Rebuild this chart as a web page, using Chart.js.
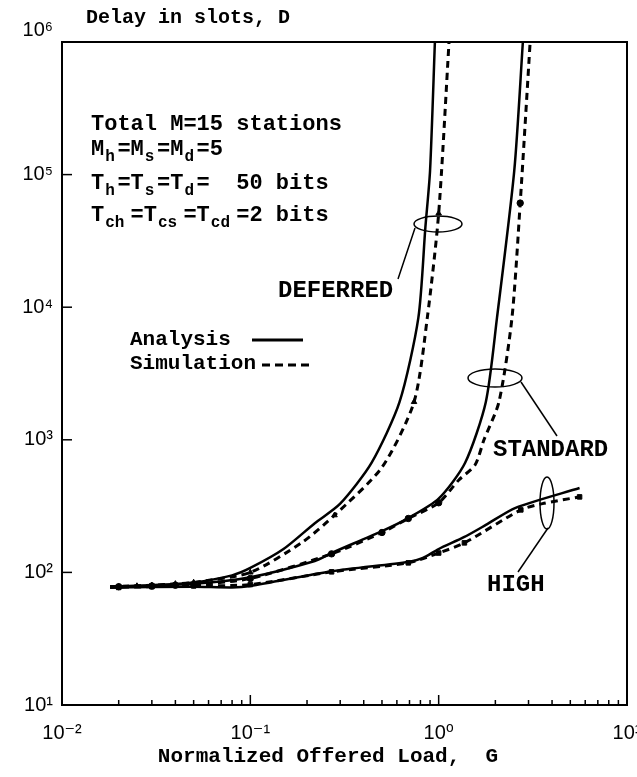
<!DOCTYPE html>
<html>
<head>
<meta charset="utf-8">
<script src="https://cdn.jsdelivr.net/npm/chart.js@4/dist/chart.umd.min.js"></script>
<style>
  html, body { margin: 0; padding: 0; background: #fff; }
  #wrap { width: 637px; height: 777px; }
</style>
</head>
<body>
<div id="wrap"><canvas id="delayChart"></canvas></div>
<script>
// values: load G vs delay D (slots)
const deferredLoadA = [0.018, 0.03, 0.05, 0.08, 0.1, 0.15, 0.22, 0.3, 0.44, 0.62, 0.78, 0.85, 0.9, 0.955];
const deferredDelayA = [78, 80, 84, 95, 108, 150, 235, 330, 670, 1930, 8300, 40000, 107000, 1000000];
const deferredLoadS = [0.018, 0.025, 0.03, 0.04, 0.05, 0.1, 0.19, 0.28, 0.5, 0.74, 0.87, 1.0, 1.135];
const deferredDelayS = [78, 79, 80, 82, 84, 100, 170, 270, 620, 1930, 8300, 51000, 1000000];

const standardLoadA = [0.018, 0.05, 0.1, 0.22, 0.27, 0.5, 0.69, 1.0, 1.38, 1.78, 2.04, 2.52, 2.8];
const standardDelayA = [78, 82, 92, 122, 140, 205, 257, 360, 668, 1930, 8300, 107000, 1000000];
const standardLoadS = [0.018, 0.05, 0.1, 0.27, 0.5, 0.69, 1.0, 1.28, 1.56, 1.74, 2.09, 2.45, 2.71, 3.06];
const standardDelayS = [78, 81, 90, 138, 200, 255, 335, 498, 645, 1000, 1930, 8300, 61000, 1000000];

const highLoadA = [0.018, 0.05, 0.08, 0.1, 0.27, 0.69, 0.82, 1.0, 1.37, 1.78, 2.56, 5.6];
const highDelayA = [77, 78, 77, 79, 102, 120, 128, 150, 185, 228, 307, 433];
const highLoadS = [0.018, 0.03, 0.05, 0.1, 0.27, 0.69, 1.0, 1.37, 2.73, 3.56, 5.6];
const highDelayS = [77, 78, 79, 81, 101, 118, 140, 167, 296, 330, 371];

// simulation markers
const deferredMarkG = [0.02, 0.025, 0.03, 0.04, 0.05, 0.1, 0.28, 0.74, 1.0];
const deferredMarkD = [78, 79, 80, 82, 84, 100, 270, 1930, 51000];
const standardMarkG = [0.02, 0.03, 0.04, 0.05, 0.1, 0.27, 0.5, 0.69, 1.0, 2.71];
const standardMarkD = [78, 79, 80, 81, 90, 138, 200, 255, 335, 61000];
const highMarkG = [0.02, 0.03, 0.05, 0.1, 0.27, 0.69, 1.0, 1.37, 2.73, 5.6];
const highMarkD = [77, 78, 79, 81, 101, 118, 140, 167, 296, 371];

const xMin = 0.01, xMax = 10;
const yMin = 10, yMax = 1e6;

function pts(xs, ys) {
  return xs.map((x, i) => ({ x: x, y: ys[i] }));
}

const supDigits = { '-': '\u207B', '0': '\u2070', '1': '\u00B9', '2': '\u00B2', '3': '\u00B3',
  '4': '\u2074', '5': '\u2075', '6': '\u2076', '7': '\u2077', '8': '\u2078', '9': '\u2079' };

function powLabel(v) {
  const e = Math.log10(v);
  if (Math.abs(e - Math.round(e)) > 1e-6) return null;
  return '10' + String(Math.round(e)).split('').map(c => supDigits[c]).join('');
}

function analysisLine(xs, ys) {
  return { data: pts(xs, ys), showLine: true, borderColor: '#000', borderWidth: 2.5,
    pointRadius: 0, tension: 0.25 };
}
function simLine(xs, ys) {
  return { data: pts(xs, ys), showLine: true, borderColor: '#000', borderWidth: 3,
    borderDash: [7, 5], pointRadius: 0, tension: 0.25 };
}
function marks(xs, ys, style) {
  return { data: pts(xs, ys), showLine: false, pointStyle: style, pointRadius: 3.2,
    backgroundColor: '#000', borderColor: '#000', borderWidth: 1 };
}

const mono = '"Liberation Mono", "DejaVu Sans Mono", monospace';

// typewriter style: subscripts sit in full character cells
function drawRich(ctx, parts, x, y, size) {
  ctx.font = 'bold ' + size + 'px ' + mono;
  const cell = ctx.measureText('M').width;
  let cx = x;
  parts.forEach(p => {
    if (p[1]) {
      ctx.font = 'bold ' + Math.round(size * 0.72) + 'px ' + mono;
      ctx.fillText(p[0], cx + 1, y + size * 0.34);
    } else {
      ctx.font = 'bold ' + size + 'px ' + mono;
      ctx.fillText(p[0], cx, y);
    }
    cx += p[0].length * cell;
  });
}

function ellipse(ctx, cx, cy, rx, ry) {
  ctx.beginPath();
  ctx.ellipse(cx, cy, rx, ry, 0, 0, Math.PI * 2);
  ctx.stroke();
}
function seg(ctx, x1, y1, x2, y2) {
  ctx.beginPath();
  ctx.moveTo(x1, y1);
  ctx.lineTo(x2, y2);
  ctx.stroke();
}

const paperPlugin = {
  id: 'paper',
  afterDraw(chart) {
    const ctx = chart.ctx;
    const a = chart.chartArea;
    const xs = chart.scales.x, ys = chart.scales.y;
    ctx.save();
    ctx.strokeStyle = '#000';
    ctx.fillStyle = '#000';

    // frame
    ctx.lineWidth = 2;
    ctx.strokeRect(a.left, a.top, a.right - a.left, a.bottom - a.top);

    // inward ticks on bottom axis
    ctx.lineWidth = 1.5;
    for (let e = Math.log10(xMin); e < Math.log10(xMax); e++) {
      for (let m = 1; m < 10; m++) {
        const px = xs.getPixelForValue(m * Math.pow(10, e));
        seg(ctx, px, a.bottom, px, a.bottom - (m === 1 ? 10 : 5));
      }
    }
    // inward ticks on left axis
    for (let e = Math.log10(yMin); e <= Math.log10(yMax); e++) {
      const py = ys.getPixelForValue(Math.pow(10, e));
      seg(ctx, a.left, py, a.left + 10, py);
    }

    // titles
    ctx.textBaseline = 'middle';
    ctx.textAlign = 'left';
    ctx.font = 'bold 20px ' + mono;
    ctx.fillText('Delay in slots, D', 86, 18);
    ctx.textAlign = 'center';
    ctx.font = 'bold 21px ' + mono;
    ctx.fillText('Normalized Offered Load,  G', 328, 757);

    // parameter block
    ctx.textAlign = 'left';
    ctx.font = 'bold 22px ' + mono;
    ctx.fillText('Total M=15 stations', 91, 124);
    drawRich(ctx, [['M', 0], ['h', 1], ['=M', 0], ['s', 1], ['=M', 0], ['d', 1], ['=5', 0]], 91, 149, 22);
    drawRich(ctx, [['T', 0], ['h', 1], ['=T', 0], ['s', 1], ['=T', 0], ['d', 1], ['=  50 bits', 0]], 91, 183, 22);
    drawRich(ctx, [['T', 0], ['ch', 1], ['=T', 0], ['cs', 1], ['=T', 0], ['cd', 1], ['=2 bits', 0]], 91, 215, 22);

    // legend
    ctx.font = 'bold 21px ' + mono;
    ctx.fillText('Analysis', 130, 340);
    ctx.fillText('Simulation', 130, 364);
    ctx.lineWidth = 3;
    seg(ctx, 252, 340, 303, 340);
    ctx.setLineDash([8, 5]);
    seg(ctx, 262, 365, 310, 365);
    ctx.setLineDash([]);

    // curve labels
    ctx.font = 'bold 24px ' + mono;
    ctx.fillText('DEFERRED', 278, 291);
    ctx.fillText('STANDARD', 493, 450);
    ctx.fillText('HIGH', 487, 585);

    // ellipses and leaders
    ctx.lineWidth = 1.5;
    ellipse(ctx, 438, 224, 24, 8);
    seg(ctx, 415, 228, 398, 279);
    ellipse(ctx, 495, 378, 27, 9);
    seg(ctx, 521, 382, 557, 436);
    ellipse(ctx, 547, 503, 7, 26);
    seg(ctx, 548, 528, 518, 572);

    ctx.restore();
  }
};

const chart = new Chart(document.getElementById('delayChart'), {
  type: 'scatter',
  data: {
    datasets: [
      analysisLine(deferredLoadA, deferredDelayA),
      simLine(deferredLoadS, deferredDelayS),
      analysisLine(standardLoadA, standardDelayA),
      simLine(standardLoadS, standardDelayS),
      analysisLine(highLoadA, highDelayA),
      simLine(highLoadS, highDelayS),
      marks(deferredMarkG, deferredMarkD, 'triangle'),
      marks(standardMarkG, standardMarkD, 'circle'),
      marks(highMarkG, highMarkD, 'rect')
    ]
  },
  options: {
    responsive: true,
    maintainAspectRatio: false,
    animation: false,
    devicePixelRatio: 1,
    layout: { padding: { top: 42, right: 10, left: 0, bottom: 0 } },
    plugins: {
      legend: { display: false },
      tooltip: { enabled: false }
    },
    scales: {
      x: {
        type: 'logarithmic',
        min: xMin,
        max: xMax,
        grid: { display: false, drawTicks: false },
        border: { display: false },
        ticks: {
          autoSkip: false,
          maxRotation: 0,
          padding: 16,
          color: '#000',
          font: { family: '"Liberation Sans", "DejaVu Sans", sans-serif', size: 20 },
          callback: v => powLabel(v)
        },
        afterFit: s => { s.height = 72; s.paddingLeft = 0; s.paddingRight = 0; }
      },
      y: {
        type: 'logarithmic',
        min: yMin,
        max: yMax,
        grid: { display: false, drawTicks: false },
        border: { display: false },
        ticks: {
          autoSkip: false,
          padding: 9,
          color: '#000',
          font: { family: '"Liberation Sans", "DejaVu Sans", sans-serif', size: 20 },
          // the top label sits a little above its tick in the original
          callback: v => (v === yMax ? [powLabel(v), ''] : powLabel(v))
        },
        afterFit: s => { s.width = 62; s.paddingTop = 0; s.paddingBottom = 0; }
      }
    }
  },
  plugins: [paperPlugin]
});
</script>
</body>
</html>
